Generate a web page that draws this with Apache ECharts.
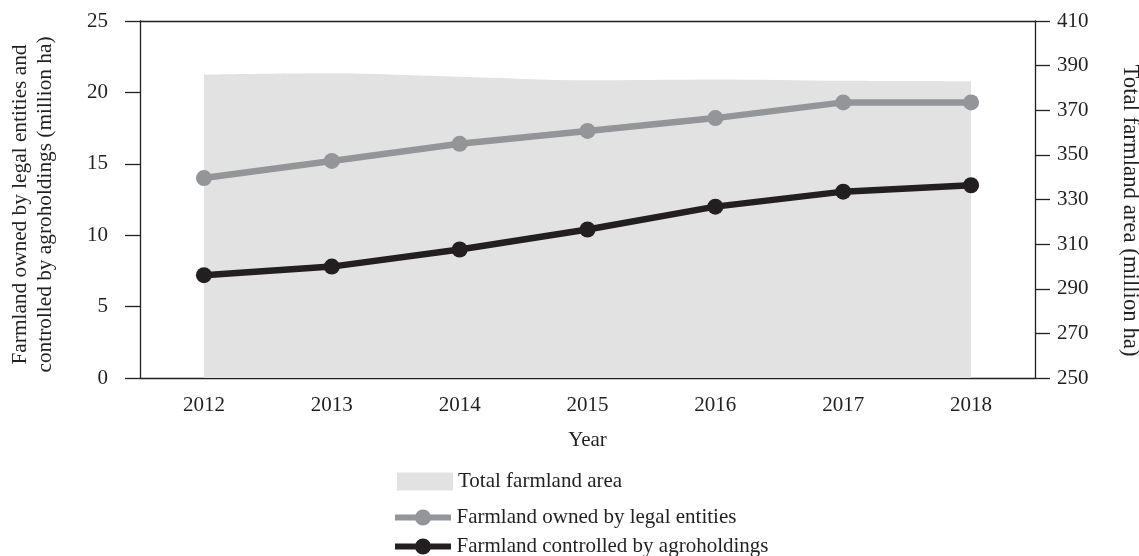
<!DOCTYPE html>
<html>
<head>
<meta charset="utf-8">
<script src="https://cdn.jsdelivr.net/npm/echarts@6/dist/echarts.min.js"></script>
<style>
html,body{margin:0;padding:0;background:#fff;}
#chart{width:1139px;height:556px;}
</style>
</head>
<body>
<div id="chart"></div>
<script>
const years = ['2012','2013','2014','2015','2016','2017','2018'];
const totalFarmland = [386.0, 386.6, 385.0, 383.4, 383.8, 383.2, 383.0];
const legalEntities = [14.0, 15.2, 16.4, 17.3, 18.2, 19.3, 19.3];
const agroholdings = [7.2, 7.8, 9.0, 10.4, 12.0, 13.05, 13.5];
const leftTicks = {min: 0, max: 25, interval: 5};
const rightTicks = {min: 250, max: 410, interval: 20};

const INK = '#231f20';
const GREY = '#939598';
const AREA = '#e2e2e2';
const FONT = 'Liberation Serif';
const chart = echarts.init(document.getElementById('chart'));
const txt = {fontFamily: FONT, fontSize: 21, color: INK};
const lineIcon = 'path://M0 7h56v6H0z M20 10a8 8 0 1 1 16 0a8 8 0 1 1 -16 0z';

chart.setOption({
  animation: false,
  backgroundColor: '#fff',
  grid: {left: 140, right: 104, top: 21, bottom: 178, containLabel: false, outerBoundsMode: 'none'},
  legend: [
    {left: 397, top: 471, padding: 0, orient: 'vertical', itemWidth: 56, itemHeight: 18,
     textStyle: txt, data: [{name: 'Total farmland area', icon: 'rect'}]},
    {left: 395, top: 507, padding: 0, orient: 'vertical', itemWidth: 57, itemHeight: 16,
     textStyle: txt, data: [{name: 'Farmland owned by legal entities', icon: lineIcon}]},
    {left: 395, top: 536, padding: 0, orient: 'vertical', itemWidth: 57, itemHeight: 16,
     textStyle: txt, data: [{name: 'Farmland controlled by agroholdings', icon: lineIcon}]}
  ],
  xAxis: [{
    type: 'category', data: years, boundaryGap: true,
    name: 'Year', nameLocation: 'middle', nameGap: 52, nameTextStyle: txt,
    axisLine: {lineStyle: {color: INK, width: 1.3}},
    axisTick: {show: false},
    axisLabel: Object.assign({margin: 17}, txt)
  }, {
    type: 'category', data: years, position: 'top', boundaryGap: true,
    axisLine: {lineStyle: {color: INK, width: 1.3}},
    axisTick: {show: false}, axisLabel: {show: false}
  }],
  yAxis: [{
    type: 'value', position: 'left',
    min: leftTicks.min, max: leftTicks.max, interval: leftTicks.interval,
    name: 'Farmland owned by legal entities and\ncontrolled by agroholdings (million ha)',
    nameLocation: 'middle', nameGap: 82,
    nameTextStyle: Object.assign({}, txt, {fontSize: 21.3, lineHeight: 25, padding: [0, 10, 0, 0]}),
    axisLine: {show: true, lineStyle: {color: INK, width: 1.3}},
    axisTick: {show: true, length: 15, inside: false, lineStyle: {color: INK, width: 1.3}},
    axisLabel: Object.assign({margin: 32}, txt),
    splitLine: {show: false}
  }, {
    type: 'value', position: 'right',
    min: rightTicks.min, max: rightTicks.max, interval: rightTicks.interval,
    name: 'Total farmland area (million ha)',
    nameLocation: 'middle', nameGap: 83, nameRotate: -90,
    nameTextStyle: Object.assign({}, txt, {fontSize: 22.8, padding: [0, 0, 0, 22]}),
    axisLine: {show: true, lineStyle: {color: INK, width: 1.3}},
    axisTick: {show: true, length: 15, inside: false, lineStyle: {color: INK, width: 1.3}},
    axisLabel: Object.assign({margin: 22}, txt),
    splitLine: {show: false}
  }],
  series: [{
    name: 'Total farmland area', type: 'line', yAxisIndex: 1,
    data: totalFarmland, smooth: 0.3, showSymbol: false, symbol: 'none',
    lineStyle: {width: 0, color: AREA},
    itemStyle: {color: AREA},
    areaStyle: {color: AREA, opacity: 1},
    z: 1
  }, {
    name: 'Farmland owned by legal entities', type: 'line', yAxisIndex: 0,
    data: legalEntities, symbol: 'circle', symbolSize: 16,
    lineStyle: {width: 6.5, color: GREY},
    itemStyle: {color: GREY},
    z: 3
  }, {
    name: 'Farmland controlled by agroholdings', type: 'line', yAxisIndex: 0,
    data: agroholdings, symbol: 'circle', symbolSize: 16,
    lineStyle: {width: 6.5, color: INK},
    itemStyle: {color: INK},
    z: 4
  }]
});
</script>
</body>
</html>
